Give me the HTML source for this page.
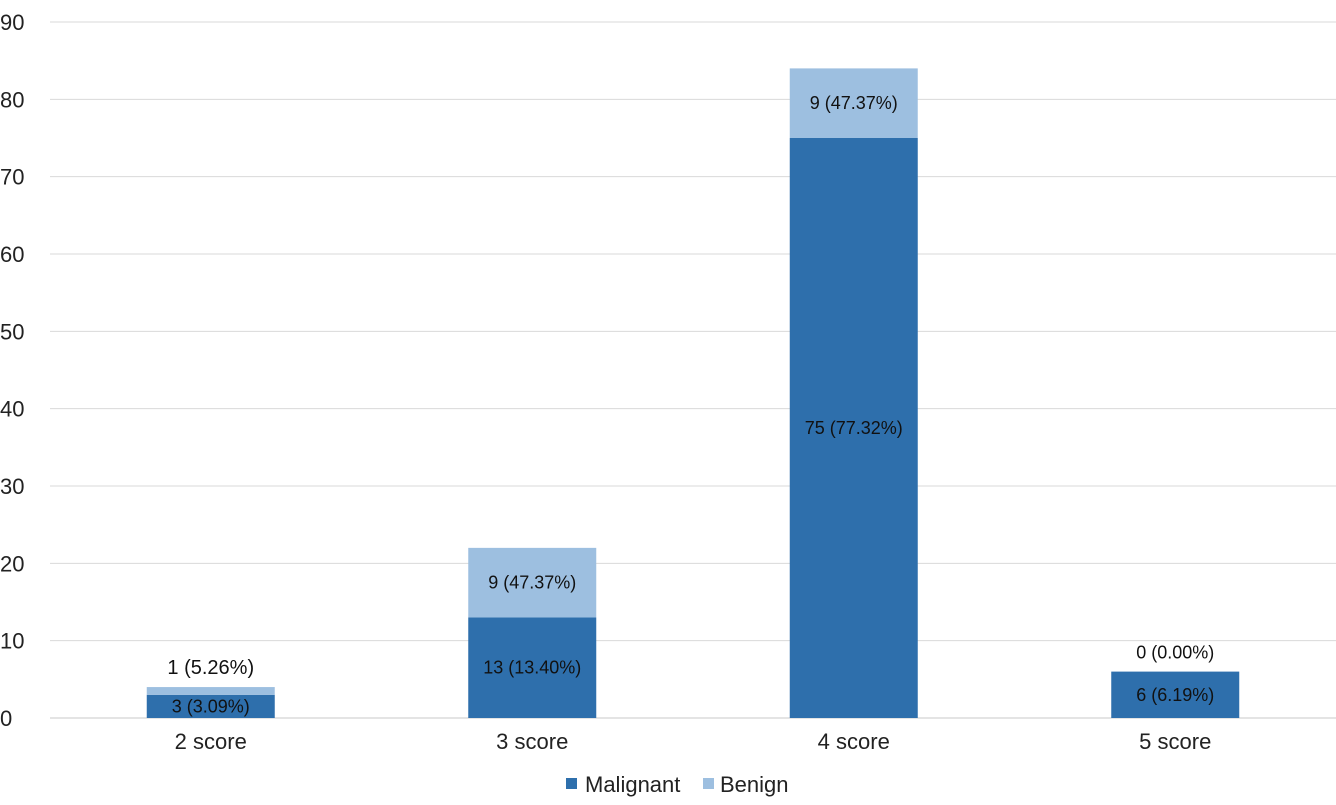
<!DOCTYPE html>
<html><head><meta charset="utf-8"><style>
body{margin:0;background:#fff;font-family:"Liberation Sans",Arial,sans-serif}
svg text{font-family:"Liberation Sans",Arial,sans-serif}
</style></head><body>
<svg id="chart" width="1336" height="800" xmlns="http://www.w3.org/2000/svg"></svg>
<script>
const categories=["2 score","3 score","4 score","5 score"];
const malignant=[3,13,75,6];
const benign=[1,9,9,0];
const malignantLabels=["3 (3.09%)","13 (13.40%)","75 (77.32%)","6 (6.19%)"];
const benignLabels=["1 (5.26%)","9 (47.37%)","9 (47.37%)","0 (0.00%)"];
const yTicks=[0,10,20,30,40,50,60,70,80,90];

const svg=document.getElementById('chart');
const NS='http://www.w3.org/2000/svg';
const x0=50,x1=1336,yBase=718,yTop=22,yMax=90,barW=128;
const y=v=>yBase-(v/yMax)*(yBase-yTop);
const band=(x1-x0)/categories.length;
const xc=i=>x0+band*(i+0.5);
function el(tag,attrs,txt){const e=document.createElementNS(NS,tag);for(const k in attrs)e.setAttribute(k,attrs[k]);if(txt!==undefined)e.textContent=txt;svg.appendChild(e);return e;}

yTicks.forEach(t=>{
  const g=el('line',{x1:x0,x2:x1,y1:y(t),y2:y(t),stroke:t===0?'#c8c8c8':'#d9d9d9','stroke-width':1});
  
  
  const l=el('text',{x:0,y:y(t)+8,'font-size':22,fill:'#222'},String(t));
  
  
});

categories.forEach((c,i)=>{
  const cx=xc(i);
  const m=malignant[i],b=benign[i];
  const rm=el('rect',{x:cx-barW/2,y:y(m),width:barW,height:yBase-y(m),fill:'#2e6fac'});
  
  
  const rb=el('rect',{x:cx-barW/2,y:y(m+b),width:barW,height:y(m)-y(m+b),fill:'#9dbfe0'});
  
  
  const tm=el('text',{x:cx,y:(y(m)+yBase)/2+6,'font-size':18,'text-anchor':'middle',fill:'#111'},malignantLabels[i]);
  
  
  const segH=y(m)-y(m+b);
  const by=segH<20?y(m+b)-13:(y(m)+y(m+b))/2+6;
  const tb=el('text',{x:cx,y:by,'font-size':segH<20&&b>0?20:18,'text-anchor':'middle',fill:'#111'},benignLabels[i]);
  
  
  const cl=el('text',{x:cx,y:749,'font-size':22,'text-anchor':'middle',fill:'#222'},c);
  
  
});

const lm=el('rect',{x:566,y:778,width:11,height:11,fill:'#2e6fac'});


const lmt=el('text',{x:585,y:792,'font-size':22,fill:'#222'},'Malignant');


const lb=el('rect',{x:703,y:778,width:11,height:11,fill:'#9dbfe0'});


const lbt=el('text',{x:720,y:792,'font-size':22,fill:'#222'},'Benign');


</script>
</body></html>
